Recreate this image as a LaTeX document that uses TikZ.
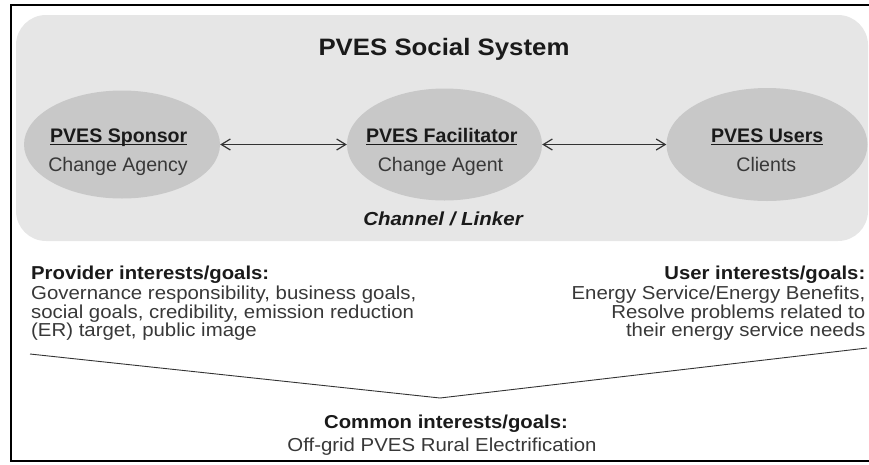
\documentclass[tikz,border=0pt]{standalone}
\usepackage{graphicx}
\usepackage{fontspec}
\setmainfont{Liberation Sans}
\usetikzlibrary{shapes.geometric,arrows.meta}
\definecolor{boxgray}{HTML}{E6E6E6}
\definecolor{ellgray}{HTML}{C8C8C8}
\definecolor{txtdark}{HTML}{1A1A1A}
\definecolor{txtgray}{HTML}{383838}
\definecolor{linegray}{HTML}{333333}
\newcommand\myul[1]{\setbox0\hbox{#1}\rlap{\rule[-2.8pt]{\wd0}{1.1pt}}\box0}
\newcommand\sq[1]{\scalebox{1}[0.92]{#1}}
\begin{document}
\begin{tikzpicture}[x=1pt,y=-1pt,
  ell/.style={ellipse,fill=ellgray,draw=none,inner sep=0pt},
  elltitle/.style={anchor=base,inner sep=0pt,text=txtdark,font=\bfseries\fontsize{19.6}{24}\selectfont},
  ellsub/.style={anchor=base,inner sep=0pt,text=txtgray,font=\fontsize{19.6}{24}\selectfont},
  head/.style={inner sep=0pt,text=txtdark,font=\bfseries\fontsize{20.3}{24}\selectfont},
  body/.style={inner sep=0pt,text=txtgray,font=\fontsize{20.4}{24}\selectfont},
  arr/.style={draw=linegray,line width=1pt,{Straight Barb[length=9pt,width=11pt,line width=1.2pt]}-{Straight Barb[length=9pt,width=11pt,line width=1.2pt]}},
  vline/.style={draw=linegray,line width=0.9pt}
]
\useasboundingbox (0,0) rectangle (869,464);
% background system box
\fill[boxgray,rounded corners=30pt] (16,15) rectangle (868,241);
% outer frame (right side lies beyond the picture edge)
\draw[line width=2pt] (885,5) -- (11,5) -- (11,461) -- (885,461);

\node[anchor=base,inner sep=0pt,text=txtdark,font=\bfseries\fontsize{25.8}{30}\selectfont] (title) at (444,55) {\sq{PVES Social System}};

\node[ell,minimum width=196pt,minimum height=108pt] (sponsor) at (122,144.5) {};
\node[ell,minimum width=195pt,minimum height=112pt] (facil) at (444.5,144.5) {};
\node[ell,minimum width=201pt,minimum height=113pt] (users) at (767,144.5) {};

\node[elltitle] (sponsorT) at (118.7,142.5) {\myul{PVES Sponsor}};
\node[ellsub] (sponsorS) at (118,171) {Change Agency};
\node[elltitle] (facilT) at (441.7,142.5) {\myul{PVES Facilitator}};
\node[ellsub] (facilS) at (440.5,171) {Change Agent};
\node[elltitle] (usersT) at (767.2,142.5) {\myul{PVES Users}};
\node[ellsub] (usersS) at (766.3,171) {Clients};

\draw[arr] (sponsor.east) -- (facil.west);
\draw[arr] (facil.east) -- (users.west);

\node[anchor=base,inner sep=0pt,text=txtdark,font=\bfseries\itshape\fontsize{20.5}{24}\selectfont] (channel) at (443,225.5) {\sq{Channel / Linker}};

% provider block
\node[head,anchor=base west] (provH) at (31,279.3) {\sq{Provider interests/goals:}};
\node[body,anchor=base west] (prov1) at (31,299.5) {\sq{Governance responsibility, business goals,}};
\node[body,anchor=base west] (prov2) at (31,318) {\sq{social goals, credibility, emission reduction}};
\node[body,anchor=base west] (prov3) at (31,336.5) {\sq{(ER) target, public image}};

% user block
\node[head,anchor=base east] (userH) at (865.5,279.3) {\sq{User interests/goals:}};
\node[body,anchor=base east] (user1) at (865.5,299.5) {\sq{Energy Service/Energy Benefits,}};
\node[body,anchor=base east] (user2) at (865.5,318) {\sq{Resolve problems related to}};
\node[body,anchor=base east] (user3) at (865.5,336.5) {\sq{their energy service needs}};

% converging lines
\coordinate (vl) at (30,354);
\coordinate (vm) at (440,398);
\coordinate (vr) at (867,348);
\draw[vline] (vl) -- (vm) -- (vr);

% common block
\node[head,anchor=base] (comH) at (446,428) {\sq{Common interests/goals:}};
\node[body,anchor=base] (com1) at (442,451) {\sq{Off-grid PVES Rural Electrification}};
\end{tikzpicture}
\end{document}
